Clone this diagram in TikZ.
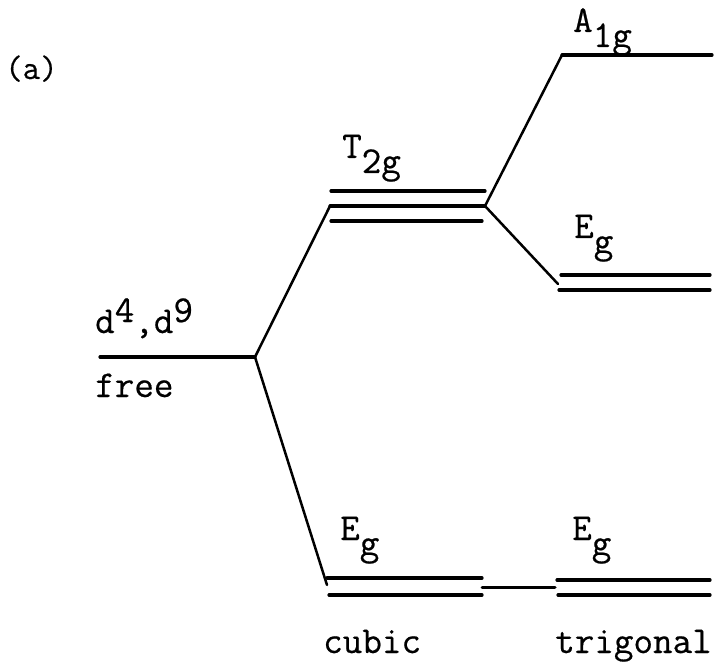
\documentclass[tikz,border=0pt]{standalone}
\usepackage{fontspec}
\newfontfamily\typew{Latin Modern Mono}[FakeBold=0.5]
\newcommand\dnsub[1]{\raisebox{-15pt}{#1}}
\newcommand\upsup[1]{\raisebox{11pt}{#1}}
\tikzset{
  level/.style={line width=3.2pt, line cap=round},
  conn/.style={line width=2.5pt, line cap=round, line join=round},
  lab/.style={anchor=base west, inner sep=0pt, font=\fontsize{38}{42}\selectfont\typew},
}
\begin{document}
\begin{tikzpicture}[x=1pt,y=-1pt]
\useasboundingbox (0,0) rectangle (715,671);
% level end points
\coordinate (freeL) at (100,357);
\coordinate (freeR) at (255,357);
\coordinate (t2aL) at (331,191); \coordinate (t2aR) at (485,191);
\coordinate (t2bL) at (330,206); \coordinate (t2bR) at (485,206);
\coordinate (t2cL) at (331,221); \coordinate (t2cR) at (482,221);
\coordinate (a1L) at (562,55); \coordinate (a1R) at (712,55);
\coordinate (egmaL) at (561,275); \coordinate (egmaR) at (710,275);
\coordinate (egmbL) at (559,290); \coordinate (egmbR) at (710,290);
\coordinate (egmJ) at (558,284);
\coordinate (ecaL) at (327,578); \coordinate (ecaR) at (482,578);
\coordinate (ecbL) at (329,595); \coordinate (ecbR) at (482,595);
\coordinate (ecJ) at (327,585);
\coordinate (linkL) at (482,587); \coordinate (linkR) at (555,587);
\coordinate (etaL) at (557,580); \coordinate (etaR) at (710,580);
\coordinate (etbL) at (558,595); \coordinate (etbR) at (710,595);
% levels
\draw[level] (freeL) -- (freeR);
\draw[level] (t2aL) -- (t2aR);
\draw[level] (t2bL) -- (t2bR);
\draw[level] (t2cL) -- (t2cR);
\draw[level] (a1L) -- (a1R);
\draw[level] (egmaL) -- (egmaR);
\draw[level] (egmbL) -- (egmbR);
\draw[level] (ecaL) -- (ecaR);
\draw[level] (ecbL) -- (ecbR);
\draw[level] (etaL) -- (etaR);
\draw[level] (etbL) -- (etbR);
\draw[level, line width=3pt] (linkL) -- (linkR);
% connectors
\draw[conn] (t2bL) -- (freeR) -- (ecJ);
\draw[conn] (a1L) -- (t2bR) -- (egmJ);
% labels
\node[lab, font=\fontsize{34}{38}\selectfont\typew] (lbla) at (5,79) {(a)};
\node[lab] (lbld) at (95,333) {d\upsup{4},d\upsup{9}};
\node[lab] (lblfree) at (95,397) {free};
\node[lab] (lblt2g) at (342,158) {T\dnsub{2g}};
\node[lab] (lbla1g) at (573,32) {A\dnsub{1g}};
\node[lab] (lblegm) at (574,238) {E\dnsub{g}};
\node[lab] (lblegc) at (340,540) {E\dnsub{g}};
\node[lab] (lblegt) at (572,540) {E\dnsub{g}};
\node[lab] (lblcubic) at (323,653) {cubic};
\node[lab] (lbltrig) at (555,653) {trigonal};
\end{tikzpicture}
\end{document}
